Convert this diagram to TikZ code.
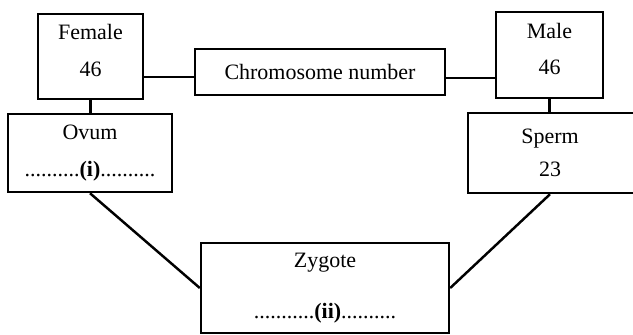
\documentclass[tikz,border=0pt]{standalone}
\usepackage{fontspec}
\setmainfont{Liberation Serif}
\tikzset{
  cellbox/.style={draw, line width=1.4pt, align=center, inner sep=0pt,
    font=\fontsize{12.5}{15}\selectfont},
  joinline/.style={line width=1.4pt}
}
\begin{document}
\begin{tikzpicture}[x=0.02cm, y=-0.02cm]
    % Fix the frame of the picture
    \clip (0,0) rectangle (633,335);

    % Draw the parent boxes and the label in the middle
    \node[cellbox, minimum width=2.1cm, minimum height=1.7cm] (female) at (90.5,56.5) {Female\\[6pt]46\\[-8pt]\mbox{}};
    \node[cellbox, minimum width=5cm, minimum height=0.92cm] (chrom) at (320,72) {Chromosome number};
    \node[cellbox, minimum width=2.14cm, minimum height=1.72cm] (male) at (549.5,55) {Male\\[6pt]46\\[-8pt]\mbox{}};

    % Draw the gamete boxes
    \node[cellbox, minimum width=3.28cm, minimum height=1.56cm] (ovum) at (90,153) {Ovum\\[6pt]..........\textbf{(i)}..........};
    \node[cellbox, minimum width=3.44cm, minimum height=1.6cm] (sperm) at (554,153) {\hspace*{-0.16cm}Sperm\\[4pt]\hspace*{-0.16cm}23};

    % Draw the zygote box
    \node[cellbox, minimum width=4.96cm, minimum height=1.8cm] (zygote) at (325,288) {Zygote\\[14pt]...........\textbf{(ii)}..........};

    % Join the boxes
    \draw[joinline] ([yshift=-0.1cm]chrom.west) -- ([yshift=-0.1cm]chrom.west -| female.east);
    \draw[joinline] ([yshift=-0.12cm]chrom.east) -- ([yshift=-0.12cm]chrom.east -| male.west);
    \draw[joinline] (female.south) -- (female.south |- ovum.north);
    \draw[joinline] (male.south) -- (male.south |- sperm.north);
    \draw[joinline] (ovum.south) -- (zygote.west);
    \draw[joinline] ([xshift=-0.08cm]sperm.south) -- (zygote.east);
\end{tikzpicture}
\end{document}
